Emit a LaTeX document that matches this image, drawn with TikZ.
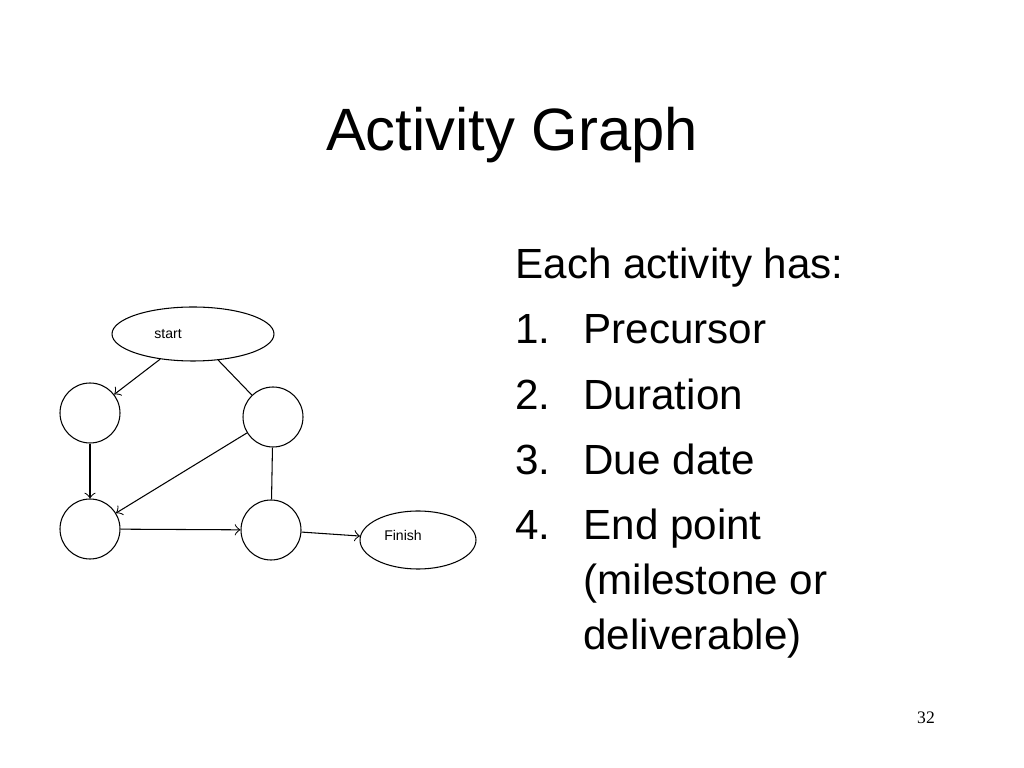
\documentclass[tikz,border=0pt]{standalone}
\usepackage{fontspec}
\setmainfont{Liberation Sans}
\newfontfamily\serifnum{Liberation Serif}
\usetikzlibrary{shapes.geometric}
\begin{document}
\begin{tikzpicture}[x=0.1mm,y=-0.1mm,line width=0.3pt,
	activity/.style={draw,circle,minimum size=6mm,inner sep=0pt},
	terminal/.style={draw,ellipse,inner sep=0pt,font=\fontsize{4}{5}\selectfont},
	item/.style={anchor=base west,font=\fontsize{12}{14}\selectfont,inner sep=0pt}]
	\useasboundingbox (0,0) rectangle (1024,768);

		\node (Title) at (512,135) [font=\fontsize{17}{20}\selectfont]{Activity Graph};

		\node (Start) at (193,334) [terminal,minimum width=16.2mm,minimum height=5.4mm]{\hspace*{-5mm}start};
		\node (Finish) at (418,540) [terminal,minimum width=11.6mm,minimum height=5.8mm]{\hspace*{-3mm}\raisebox{1mm}{Finish}};

		\node (TopLeft) at (90,413) [activity]{};
		\node (TopRight) at (273,417) [activity]{};
		\node (BottomLeft) at (90,529) [activity]{};
		\node (BottomRight) at (271,530) [activity]{};

		\draw [->] (Start) -- (TopLeft);
		\draw (Start) -- (TopRight);
		\draw [->] (TopLeft) -- (BottomLeft);
		\draw [->] (TopRight) -- (BottomLeft);
		\draw (TopRight) -- (BottomRight);
		\draw [->] (BottomLeft) -- (BottomRight);
		\draw [->] (BottomRight) -- (Finish);

		\node (Intro) at (515,279) [item]{Each activity has:};
		\node (NumA) at (515,344) [item]{1.};
		\node (Precursor) at (583,344) [item]{Precursor};
		\node (NumB) at (515,410) [item]{2.};
		\node (Duration) at (583,410) [item]{Duration};
		\node (NumC) at (515,475) [item]{3.};
		\node (DueDate) at (583,475) [item]{Due date};
		\node (NumD) at (515,540) [item]{4.};
		\node (EndPoint) at (583,540) [item]{End point};
		\node (Milestone) at (583,595) [item]{(milestone or};
		\node (Deliverable) at (583,650) [item]{deliverable)};

		\node (Page) at (926,718) [font=\serifnum\fontsize{5}{6}\selectfont]{32};
	\end{tikzpicture}
\end{document}
